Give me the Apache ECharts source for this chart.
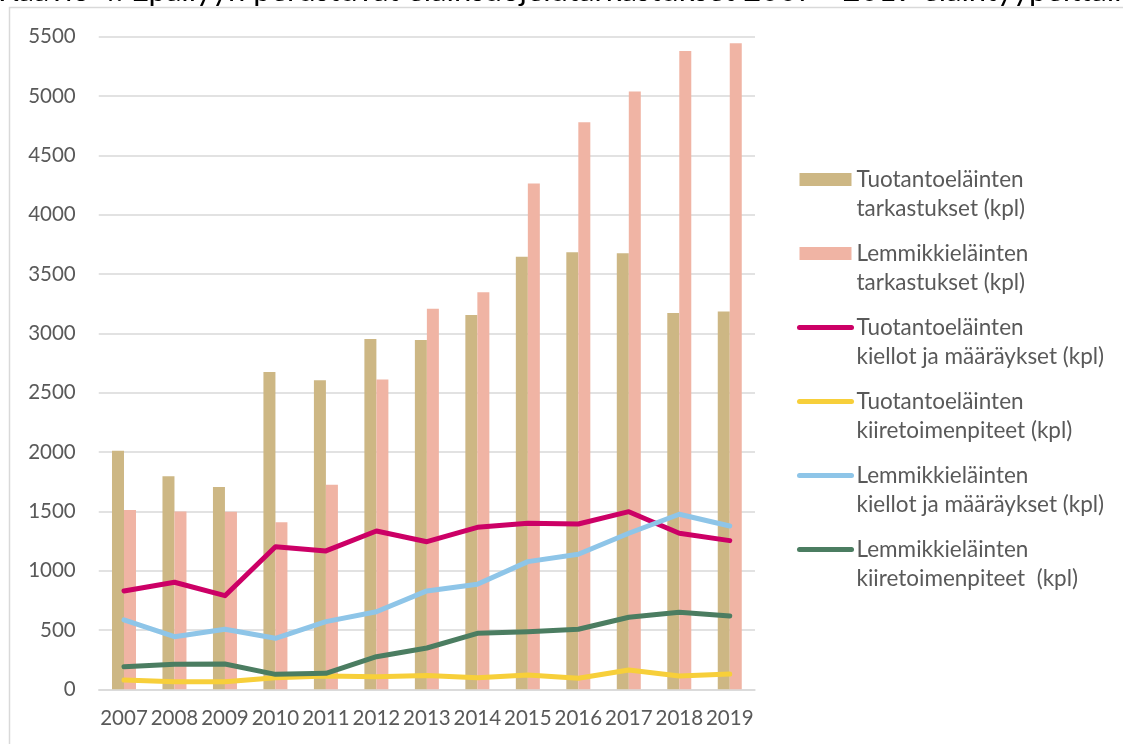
<!DOCTYPE html>
<html>
<head>
<meta charset="utf-8">
<script src="https://cdn.jsdelivr.net/npm/echarts@6/dist/echarts.min.js"></script>
<style>
html,body{margin:0;padding:0;background:#fff;}
#main{width:1123px;height:744px;}
</style>
</head>
<body>
<div id="main"></div>
<script>
var titleText = 'Kaavio 4. Epäilyyn perustuvat eläinsuojelutarkastukset 2007 - 2019 eläintyypeittäin';
var years = ['2007','2008','2009','2010','2011','2012','2013','2014','2015','2016','2017','2018','2019'];
var seriesNames = [
  'Tuotantoeläinten\ntarkastukset (kpl)',
  'Lemmikkieläinten\ntarkastukset (kpl)',
  'Tuotantoeläinten\nkiellot ja määräykset (kpl)',
  'Tuotantoeläinten\nkiiretoimenpiteet (kpl)',
  'Lemmikkieläinten\nkiellot ja määräykset (kpl)',
  'Lemmikkieläinten\nkiiretoimenpiteet  (kpl)'
];
var tuotTarkastukset = [2010, 1795, 1705, 2675, 2605, 2953, 2944, 3155, 3646, 3683, 3676, 3171, 3183];
var lemmTarkastukset = [1512, 1498, 1496, 1408, 1723, 2610, 3208, 3346, 4262, 4779, 5038, 5380, 5445];
var tuotKiellot = [829, 902, 789, 1202, 1166, 1334, 1244, 1365, 1399, 1393, 1497, 1315, 1253];
var tuotKiire = [78, 64, 64, 98, 112, 106, 116, 98, 121, 93, 163, 112, 129];
var lemmKiellot = [586, 443, 506, 430, 570, 654, 829, 885, 1076, 1138, 1315, 1475, 1376];
var lemmKiire = [190, 211, 213, 126, 135, 275, 348, 472, 486, 506, 607, 649, 618];
var yTicks = {min: 0, max: 5500, interval: 500};

var FONT = 'Lato';
var TXT = '#595959';
var chart = echarts.init(document.getElementById('main'), null, {renderer: 'canvas'});
function lineSeries(name, data, color) {
  return {
    name: name, type: 'line', data: data, symbol: 'none', showSymbol: false,
    lineStyle: {color: color, width: 5, cap: 'round', join: 'round'},
    itemStyle: {color: color},
    emphasis: {disabled: true}
  };
}
var hiddenDot = {color: 'rgba(0,0,0,0)', borderWidth: 0, opacity: 0};
chart.setOption({
  animation: false,
  backgroundColor: '#ffffff',
  graphic: [
    {type: 'rect', silent: true, shape: {x: 9.5, y: 7.5, width: 2000, height: 2000},
     style: {fill: 'none', stroke: '#d9d9d9', lineWidth: 1.5}},
    {type: 'text', silent: true, left: -2, top: -25,
     style: {text: titleText, font: '31px ' + FONT, fill: '#000000'}}
  ],
  grid: {left: 98.75, right: 1123 - 755, top: 36.7, bottom: 744 - 689.3, containLabel: false},
  legend: {
    orient: 'vertical', left: 797, top: 136, padding: 0,
    itemWidth: 52, itemHeight: 13, itemGap: -13,
    lineStyle: {width: 5, cap: 'round'},
    formatter: function (name) { return ' \n' + name; },
    textStyle: {fontFamily: FONT, fontSize: 22.5, color: TXT, lineHeight: 29},
    data: [
      {name: seriesNames[0], icon: 'rect'},
      {name: seriesNames[1], icon: 'rect'},
      {name: seriesNames[2], itemStyle: hiddenDot},
      {name: seriesNames[3], itemStyle: hiddenDot},
      {name: seriesNames[4], itemStyle: hiddenDot},
      {name: seriesNames[5], itemStyle: hiddenDot}
    ]
  },
  xAxis: {
    type: 'category', data: years,
    axisLine: {lineStyle: {color: '#d9d9d9', width: 1.5}},
    axisTick: {show: false},
    axisLabel: {interval: 0, fontFamily: FONT, fontSize: 20.5, color: TXT, margin: 19}
  },
  yAxis: {
    type: 'value', min: yTicks.min, max: yTicks.max, interval: yTicks.interval,
    axisLine: {show: false}, axisTick: {show: false},
    splitLine: {lineStyle: {color: '#d9d9d9', width: 1.5}},
    axisLabel: {fontFamily: FONT, fontSize: 20.5, color: TXT, margin: 23,
      formatter: function (v) { return String(v); }}
  },
  series: [
    {name: seriesNames[0], type: 'bar', data: tuotTarkastukset, barWidth: 12, barGap: '0%',
     itemStyle: {color: '#CDB784'}, emphasis: {disabled: true}},
    {name: seriesNames[1], type: 'bar', data: lemmTarkastukset, barWidth: 12, barGap: '0%',
     itemStyle: {color: '#F0B4A4'}, emphasis: {disabled: true}},
    lineSeries(seriesNames[2], tuotKiellot, '#CC0066'),
    lineSeries(seriesNames[3], tuotKiire, '#F7CF3A'),
    lineSeries(seriesNames[4], lemmKiellot, '#8EC5E8'),
    lineSeries(seriesNames[5], lemmKiire, '#4B7D61')
  ]
});
</script>
</body>
</html>
